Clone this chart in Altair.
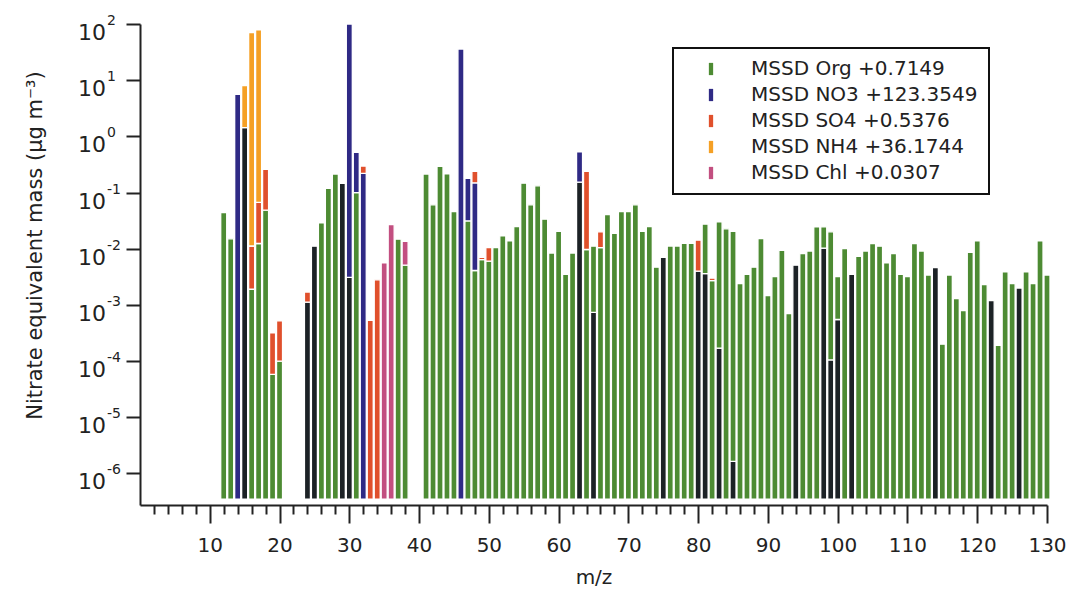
import altair as alt
import pandas as pd

FONT = "DejaVu Sans"
INK = "#222222"

# Baseline the bars rise from on the log axis
BASE = 3.5e-7

# Cumulative top of each stacked segment, keyed by m/z (ug m-3)
OTHER = {15: 1.43, 24: 1.12e-3, 25: 0.0111, 29: 0.146, 30: 3.1e-3, 63: 0.153,
         65: 7.4e-4, 75: 7.0e-3, 80: 4.0e-3, 81: 3.6e-3, 83: 1.7e-4, 85: 1.64e-6,
         94: 5.1e-3, 98: 0.0103, 99: 1.05e-4, 100: 5.5e-4, 102: 3.5e-3,
         114: 4.6e-3, 122: 1.2e-3, 126: 2.0e-3}

ORG = {12: 0.044, 13: 0.015, 16: 0.0019, 17: 0.0124, 18: 0.0486, 19: 5.8e-5,
       20: 1.0e-4, 26: 0.029, 27: 0.119, 28: 0.213, 31: 0.10, 37: 0.0148,
       38: 5.1e-3, 41: 0.213, 42: 0.0606, 43: 0.292, 44: 0.216, 45: 0.046,
       47: 0.0313, 48: 4.1e-3, 49: 6.4e-3, 50: 6.0e-3, 51: 0.0105, 52: 0.0169,
       53: 0.0138, 54: 0.0249, 55: 0.147, 56: 0.0606, 57: 0.132, 58: 0.0336,
       59: 8.4e-3, 60: 0.0205, 61: 3.5e-3, 62: 8.4e-3, 64: 9.7e-3, 65: 0.0111,
       66: 0.0105, 67: 0.0407, 68: 0.0187, 69: 0.046, 70: 0.046, 71: 0.0606,
       72: 0.0205, 73: 0.0249, 74: 4.7e-3, 76: 0.0112, 77: 0.0112, 78: 0.0125,
       79: 0.0125, 81: 0.0274, 82: 2.7e-3, 83: 0.030, 84: 0.0226, 85: 0.0205,
       86: 2.4e-3, 87: 3.5e-3, 88: 4.7e-3, 89: 0.0152, 90: 1.46e-3, 91: 3.2e-3,
       92: 9.4e-3, 93: 7.0e-4, 95: 8.2e-3, 96: 9.1e-3, 97: 0.0245, 98: 0.0245,
       99: 0.020, 100: 3.2e-3, 101: 0.0101, 103: 7.3e-3, 104: 9.1e-3,
       105: 0.0124, 106: 0.0111, 107: 5.6e-3, 108: 8.2e-3, 109: 3.5e-3,
       110: 3.2e-3, 111: 0.0124, 112: 9.1e-3, 113: 3.4e-3, 115: 2.0e-4,
       116: 3.4e-3, 117: 1.3e-3, 118: 7.9e-4, 119: 8.6e-3, 120: 0.0138,
       121: 2.3e-3, 123: 1.9e-4, 124: 3.9e-3, 125: 2.4e-3, 127: 3.9e-3,
       128: 2.4e-3, 129: 0.0138, 130: 3.4e-3}

NO3 = {14: 5.6, 30: 100.0, 31: 0.52, 32: 0.22, 46: 35.8, 47: 0.179, 48: 0.149,
       63: 0.533}

SO4 = {16: 0.0112, 17: 0.067, 18: 0.259, 19: 3.2e-4, 20: 5.2e-4, 24: 1.7e-3,
       32: 0.296, 33: 5.3e-4, 34: 2.8e-3, 48: 0.238, 49: 7.0e-3, 50: 0.0105,
       64: 0.238, 66: 0.020, 80: 0.0142, 82: 3.0e-3}

NH4 = {15: 8.0, 16: 70.0, 17: 79.0}

CHL = {35: 5.6e-3, 36: 0.027, 38: 0.0136}

SERIES = ["Other", "MSSD Org +0.7149", "MSSD NO3 +123.3549", "MSSD SO4 +0.5376",
          "MSSD NH4 +36.1744", "MSSD Chl +0.0307"]
COLORS = ["#1c2226", "#4d8b33", "#2f2a85", "#e0502c", "#f5a025", "#c24f80"]
STACK = [OTHER, ORG, NO3, SO4, NH4, CHL]

POWERS = [-6, -5, -4, -3, -2, -1, 0, 1, 2]

# Stack the segments bottom-up for every m/z
rows = []
for mz in sorted(set().union(*STACK)):
    lo = BASE
    for name, part in zip(SERIES, STACK):
        if mz in part:
            rows.append({"mz": mz, "species": name, "lo": lo, "hi": part[mz]})
            lo = part[mz]
bars_df = pd.DataFrame(rows)

decades = pd.DataFrame({"v": [10.0 ** p for p in POWERS],
                        "p": [str(p) for p in POWERS]})

x_scale = alt.Scale(domain=[0, 130], nice=False, zero=False)
y_scale = alt.Scale(type="log", domain=[2.75e-7, 100], nice=False)

x_axis = alt.Axis(
    values=list(range(2, 131, 2)),
    labelExpr="datum.value % 10 === 0 ? datum.label : ''",
    tickSize={"condition": {"test": "datum.value % 10 === 0", "value": 18}, "value": 9},
    tickWidth=2, tickColor=INK, domainWidth=2, domainColor=INK,
    labelFont=FONT, labelFontSize=20, labelColor=INK, labelPadding=12,
    labelOverlap=False, labelFlush=False, grid=False,
    title="m/z", titleFont=FONT, titleFontSize=20, titleFontWeight="normal",
    titleColor=INK, titlePadding=12,
)

y_axis = alt.Axis(
    values=[10.0 ** p for p in POWERS], labels=False,
    tickSize=14, tickWidth=2, tickColor=INK, domainWidth=2, domainColor=INK,
    grid=False,
    title="Nitrate equivalent mass (µg m⁻³)", titleFont=FONT, titleFontSize=21,
    titleFontWeight="normal", titleColor=INK, titleAngle=-90,
    titleAlign="center", titleBaseline="middle", titleX=-105, titleY=221,
)

bars = alt.Chart(bars_df).transform_calculate(
    x0="datum.mz - 0.43", x1="datum.mz + 0.43"
).mark_bar(stroke="white", strokeWidth=1.3).encode(
    x=alt.X("x0:Q", scale=x_scale, axis=x_axis),
    x2="x1:Q",
    y=alt.Y("lo:Q", scale=y_scale, axis=y_axis),
    y2="hi:Q",
    color=alt.Color(
        "species:N",
        scale=alt.Scale(domain=SERIES, range=COLORS),
        legend=alt.Legend(
            values=SERIES[1:], title=None, orient="none", legendX=533, legendY=24,
            strokeColor="#111111", padding=11, rowPadding=6,
            symbolType="M-0.35,-1L0.35,-1L0.35,1L-0.35,1Z", symbolSize=150,
            symbolStrokeWidth=0, symbolOffset=17, labelOffset=30,
            labelFont=FONT, labelFontSize=20, labelColor=INK, labelLimit=400,
        ),
    ),
)

# Decade labels drawn as "10" with a raised exponent
tens = alt.Chart(decades).mark_text(
    align="right", baseline="middle", font=FONT, fontSize=22, dy=9, color=INK
).encode(y=alt.Y("v:Q", scale=y_scale, axis=y_axis), x=alt.value(-34), text=alt.value("10"))

exps = alt.Chart(decades).mark_text(
    align="left", baseline="middle", font=FONT, fontSize=14, dy=-3, color=INK
).encode(y=alt.Y("v:Q", scale=y_scale, axis=y_axis), x=alt.value(-33), text="p:N")

chart = alt.layer(bars, tens, exps).properties(
    width=907, height=481,
    autosize=alt.AutoSizeParams(type="none"),
    padding={"left": 140, "top": 24, "right": 26, "bottom": 87},
    background="white",
).configure_view(stroke=None).configure_legend(strokeWidth=2)

chart.save("out.html", embed_options={"renderer": "svg", "actions": False})
